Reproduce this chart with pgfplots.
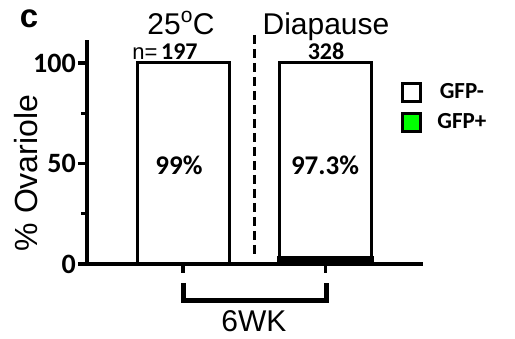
\documentclass[border=0pt]{standalone}
\usepackage{pgfplots}
\pgfplotsset{compat=1.18}
\usepackage{fontspec}
\setmainfont{Liberation Sans}
\newfontfamily\carl{Carlito}
\definecolor{gfpgreen}{RGB}{0,255,0}
\begin{document}
\begin{tikzpicture}
\useasboundingbox (0,0) rectangle (515pt,339pt);
\begin{axis}[
  at={(87pt,75pt)}, anchor=south west,
  scale only axis, width=336pt, height=224pt,
  xmin=0.326, xmax=2.684, ymin=0, ymax=111.4,
  axis x line=bottom, axis y line=left,
  axis line style={-, line width=3.2pt},
  every tick/.style={black, line width=3.2pt},
  tick align=outside,
  major tick length=9pt, minor tick length=6pt,
  xtick={1,2}, xticklabels={},
  ytick={0,50,100}, minor ytick={25,75},
  /pgf/number format/assume math mode=true,
  yticklabel style={font=\carl\bfseries\fontsize{28}{28}\selectfont, inner xsep=2pt},
  ybar stacked, bar width=92pt,
  clip=false,
  reverse legend,
  legend image code/.code={\draw[#1, line width=3pt] (0pt,-9pt) rectangle (18pt,9pt);},
  legend style={at={(axis description cs:0.935,0.815)}, anchor=north west, draw=none, fill=none,
    font=\carl\bfseries\fontsize{23}{23}\selectfont, row sep=9pt, inner sep=0pt,
    /tikz/every odd column/.append style={column sep=13pt}},
]
\addplot[fill=gfpgreen, draw=black, line width=5pt] coordinates {(1,0) (2,2.7)};
\addplot[fill=white, draw=black, line width=3pt] coordinates {(1,100) (2,97.3)};
\legend{GFP+, GFP-}
\end{axis}
\node[anchor=base, font=\bfseries\fontsize{33}{33}\selectfont] at (29pt,311pt) {c};
\node[anchor=base, font=\fontsize{30}{30}\selectfont] at (181pt,304pt) {25\raisebox{3pt}{\textsuperscript{o}}C};
\node[anchor=base, font=\fontsize{30}{30}\selectfont] at (326pt,304pt) {Diapause};
\node[anchor=base, inner sep=0pt] at (165pt,279pt) {\fontsize{22}{22}\selectfont n=\,{\carl\bfseries\fontsize{24}{24}\selectfont 197}};
\node[anchor=base, inner sep=0pt, font=\carl\bfseries\fontsize{24}{24}\selectfont] at (326pt,279pt) {328};
\node[anchor=base, inner sep=0pt, font=\carl\bfseries\fontsize{27}{27}\selectfont] at (179pt,164pt) {99\%};
\node[anchor=base, inner sep=0pt, font=\carl\bfseries\fontsize{27}{27}\selectfont] at (325pt,164pt) {97.3\%};
\node[anchor=base, inner sep=0pt, rotate=90, font=\fontsize{32}{32}\selectfont] at (38pt,166pt) {\% Ovariole};
\node[anchor=base, inner sep=0pt, font=\fontsize{30}{30}\selectfont] at (254pt,7pt) {6WK};
\draw[dash pattern=on 9pt off 5pt, line width=3pt] (254pt,304pt) -- (254pt,84pt);
\draw[line width=5pt, miter limit=10] (183pt,56pt) -- (183pt,38.5pt) -- (326pt,38.5pt) -- (326pt,56pt);
\end{tikzpicture}
\end{document}
